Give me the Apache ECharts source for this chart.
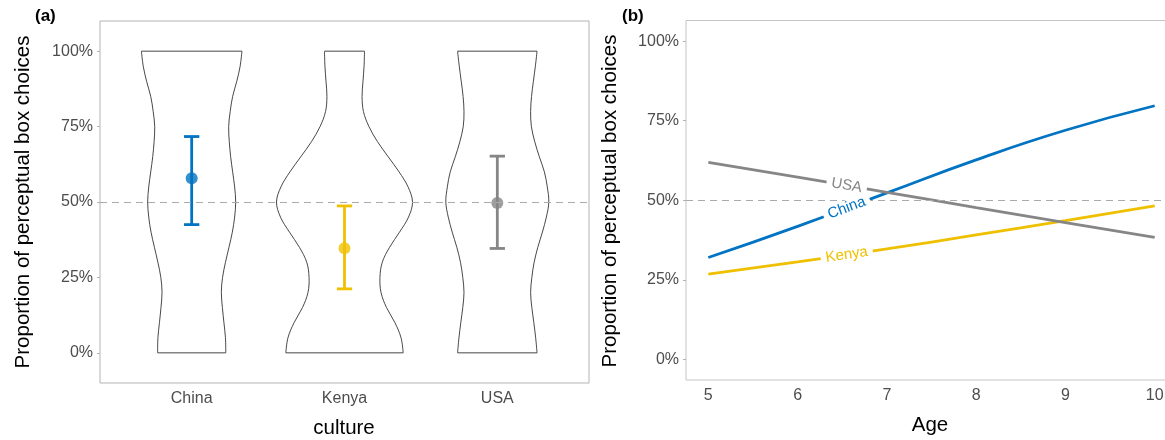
<!DOCTYPE html>
<html>
<head>
<meta charset="utf-8">
<script src="https://cdn.jsdelivr.net/npm/echarts@6/dist/echarts.min.js"></script>
<style>
html,body{margin:0;padding:0;background:#fff;}
#chart{width:1165px;height:440px;}
</style>
</head>
<body>
<div id="chart"></div>
<script>
// ---------- data ----------
const cultures = ['China', 'Kenya', 'USA'];
const cultureColors = ['#0073C2', '#EFC000', '#868686'];

// panel (a): mean proportion and error bar limits
const meanProp = [0.579, 0.347, 0.497];
const lowerCI = [0.425, 0.212, 0.346];
const upperCI = [0.717, 0.487, 0.652];

// violin outlines: half-widths (in category units) at each proportion level
const violinLevels = [0, 0.05, 0.1, 0.15, 0.2, 0.25, 0.3, 0.35, 0.4, 0.45, 0.5,
                      0.55, 0.6, 0.65, 0.7, 0.75, 0.8, 0.85, 0.9, 0.95, 1];
const chinaHalfWidth = [0.223, 0.221, 0.211, 0.201, 0.194, 0.202, 0.221, 0.244, 0.266, 0.281, 0.288,
                        0.281, 0.268, 0.255, 0.246, 0.242, 0.252, 0.268, 0.295, 0.317, 0.329];
const kenyaHalfWidth = [0.384, 0.370, 0.330, 0.275, 0.239, 0.232, 0.247, 0.295, 0.360, 0.419, 0.445,
                        0.416, 0.357, 0.286, 0.216, 0.160, 0.124, 0.115, 0.121, 0.128, 0.131];
const usaHalfWidth   = [0.260, 0.251, 0.239, 0.226, 0.218, 0.226, 0.241, 0.265, 0.295, 0.321, 0.337,
                        0.327, 0.308, 0.275, 0.245, 0.223, 0.218, 0.224, 0.236, 0.249, 0.260];

// panel (b): fitted proportion by age
const ages = [5, 6, 7, 8, 9, 10];
const chinaByAge = [0.320, 0.418, 0.523, 0.627, 0.720, 0.797];
const kenyaByAge = [0.268, 0.306, 0.347, 0.391, 0.436, 0.482];
const usaByAge   = [0.619, 0.573, 0.525, 0.477, 0.430, 0.383];

const propTicks = [0, 0.25, 0.5, 0.75, 1];
const cultureTicks = [1, 2, 3];
const ageTicks = [5, 6, 7, 8, 9, 10];

// ---------- helpers ----------
const FONT = 'Liberation Sans, Arial, Helvetica, sans-serif';
const violinWidths = [chinaHalfWidth, kenyaHalfWidth, usaHalfWidth];
const byAge = [chinaByAge, kenyaByAge, usaByAge];
const LABEL_AGE = 6.55;
const pct = v => Math.round(v * 100) + '%';

function renderViolin(params, api) {
  const i = params.dataIndex;
  const cx = i + 1;
  const w = violinWidths[i];
  const left = [], right = [];
  violinLevels.forEach((lv, k) => {
    left.push(api.coord([cx - w[k], lv]));
    right.push(api.coord([cx + w[k], lv]));
  });
  const st = { stroke: '#333333', lineWidth: 0.9, fill: null };
  const n = left.length - 1;
  return {
    type: 'group',
    children: [
      { type: 'polyline', shape: { points: left, smooth: 0.35 }, style: st },
      { type: 'polyline', shape: { points: right, smooth: 0.35 }, style: st },
      { type: 'line', shape: { x1: left[0][0], y1: left[0][1], x2: right[0][0], y2: right[0][1] }, style: st },
      { type: 'line', shape: { x1: left[n][0], y1: left[n][1], x2: right[n][0], y2: right[n][1] }, style: st }
    ]
  };
}

function renderErrorBar(params, api) {
  const x = api.value(0), lo = api.value(1), hi = api.value(2);
  const pLo = api.coord([x, lo]), pHi = api.coord([x, hi]);
  const capL = api.coord([x - 0.05, lo])[0], capR = api.coord([x + 0.05, lo])[0];
  const st = { stroke: cultureColors[params.dataIndex], lineWidth: 2.8 };
  return {
    type: 'group',
    children: [
      { type: 'line', shape: { x1: pLo[0], y1: pLo[1], x2: pHi[0], y2: pHi[1] }, style: st },
      { type: 'line', shape: { x1: capL, y1: pLo[1], x2: capR, y2: pLo[1] }, style: st },
      { type: 'line', shape: { x1: capL, y1: pHi[1], x2: capR, y2: pHi[1] }, style: st }
    ]
  };
}

function renderLineLabel(params, api) {
  const i = params.dataIndex;
  const vals = byAge[i];
  let k = 0;
  while (k < ages.length - 2 && ages[k + 1] <= LABEL_AGE) k++;
  const t = (LABEL_AGE - ages[k]) / (ages[k + 1] - ages[k]);
  const v = vals[k] + t * (vals[k + 1] - vals[k]);
  const p = api.coord([LABEL_AGE, v]);
  const p0 = api.coord([ages[k], vals[k]]);
  const p1 = api.coord([ages[k + 1], vals[k + 1]]);
  const ang = Math.atan2(p1[1] - p0[1], p1[0] - p0[0]);
  return {
    type: 'text',
    x: p[0], y: p[1],
    rotation: -ang,
    style: {
      text: cultures[i], fill: cultureColors[i],
      font: '15px ' + FONT,
      align: 'center', verticalAlign: 'middle',
      backgroundColor: '#ffffff', padding: [0, 5]
    }
  };
}

const dashLine = {
  silent: true, symbol: 'none', label: { show: false },
  lineStyle: { type: [7, 5], color: '#aaaaaa', width: 1 },
  data: [{ yAxis: 0.5 }]
};

const noTick = { show: false };
const yTickStyle = { show: true, length: 3, lineStyle: { color: '#b3b3b3', width: 1 } };
const labelStyle = { fontSize: 16, color: '#4d4d4d', fontFamily: FONT };
const noLine = { show: false, onZero: false };

// ---------- chart ----------
const chart = echarts.init(document.getElementById('chart'), null, { renderer: 'canvas' });
chart.setOption({
  animation: false,
  backgroundColor: '#ffffff',
  grid: [
    { left: 100, top: 21, width: 489, height: 362, show: true, borderColor: '#b3b3b3', borderWidth: 1,
      containLabel: false, outerBoundsMode: 'none' },
    { left: 686, top: 20.5, width: 491, height: 359.5, show: true, borderColor: '#c4c4c4', borderWidth: 1,
      containLabel: false, outerBoundsMode: 'none' }
  ],
  xAxis: [
    {
      type: 'value', gridIndex: 0, min: 0.4, max: 3.6,
      axisLine: noLine, splitLine: { show: false },
      axisTick: noTick,
      axisLabel: Object.assign({ customValues: cultureTicks, margin: 8, formatter: v => cultures[Math.round(v) - 1] }, labelStyle)
    },
    {
      type: 'value', gridIndex: 1, min: 4.75, max: 10.25,
      axisLine: noLine, splitLine: { show: false },
      axisTick: noTick,
      axisLabel: Object.assign({ customValues: ageTicks, margin: 8, formatter: v => String(v) }, labelStyle)
    }
  ],
  yAxis: [
    {
      type: 'value', gridIndex: 0, min: -0.1, max: 1.1,
      axisLine: noLine, splitLine: { show: false },
      axisTick: Object.assign({ customValues: propTicks }, yTickStyle),
      axisLabel: Object.assign({ customValues: propTicks, margin: 7, formatter: pct }, labelStyle)
    },
    {
      type: 'value', gridIndex: 1, min: -0.065, max: 1.065,
      axisLine: noLine, splitLine: { show: false },
      axisTick: Object.assign({ customValues: propTicks }, yTickStyle),
      axisLabel: Object.assign({ customValues: propTicks, margin: 7, formatter: pct }, labelStyle)
    }
  ],
  series: [
    {
      type: 'custom', name: 'violin', xAxisIndex: 0, yAxisIndex: 0,
      renderItem: renderViolin, encode: { x: 0, y: 1 },
      data: cultures.map((c, i) => [i + 1, 0.5]),
      markLine: dashLine
    },
    {
      type: 'custom', name: 'errorbar', xAxisIndex: 0, yAxisIndex: 0,
      renderItem: renderErrorBar, encode: { x: 0, y: [1, 2] },
      data: cultures.map((c, i) => [i + 1, lowerCI[i], upperCI[i]])
    },
    {
      type: 'scatter', name: 'mean', xAxisIndex: 0, yAxisIndex: 0,
      symbolSize: 12,
      data: cultures.map((c, i) => ({ value: [i + 1, meanProp[i]], itemStyle: { color: cultureColors[i] } }))
    },
    ...cultures.map((c, i) => ({
      type: 'line', name: c, xAxisIndex: 1, yAxisIndex: 1,
      data: ages.map((a, k) => [a, byAge[i][k]]),
      smooth: true, symbol: 'none',
      lineStyle: { color: cultureColors[i], width: 2.8 },
      itemStyle: { color: cultureColors[i] },
      markLine: i === 0 ? dashLine : undefined
    })),
    {
      type: 'custom', name: 'labels', xAxisIndex: 1, yAxisIndex: 1,
      renderItem: renderLineLabel, encode: { x: 0, y: 1 },
      data: cultures.map((c, i) => [LABEL_AGE, byAge[i][1]]),
      z: 5
    }
  ],
  graphic: [
    { type: 'text', x: 35, y: 16, style: { text: '(a)', font: 'bold 17px ' + FONT, fill: '#000', align: 'left', verticalAlign: 'middle' } },
    { type: 'text', x: 622, y: 16, style: { text: '(b)', font: 'bold 17px ' + FONT, fill: '#000', align: 'left', verticalAlign: 'middle' } },
    { type: 'text', x: 23, y: 202, rotation: Math.PI / 2, style: { text: 'Proportion of perceptual box choices', font: '20.5px ' + FONT, fill: '#000', align: 'center', verticalAlign: 'middle' } },
    { type: 'text', x: 610, y: 201, rotation: Math.PI / 2, style: { text: 'Proportion of perceptual box choices', font: '20.5px ' + FONT, fill: '#000', align: 'center', verticalAlign: 'middle' } },
    { type: 'text', x: 344, y: 428, style: { text: 'culture', font: '20.5px ' + FONT, fill: '#000', align: 'center', verticalAlign: 'middle' } },
    { type: 'text', x: 930, y: 425, style: { text: 'Age', font: '20.5px ' + FONT, fill: '#000', align: 'center', verticalAlign: 'middle' } }
  ]
});
</script>
</body>
</html>
